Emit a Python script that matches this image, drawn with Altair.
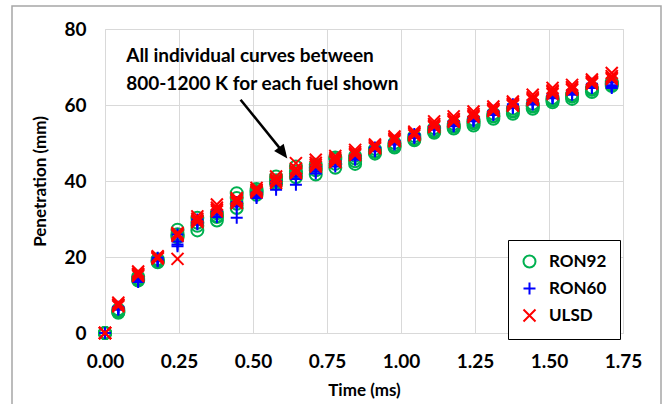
import altair as alt
import pandas as pd

FONT = "Lato"

# ---------------- data ----------------
time_ms = [0, 0.045, 0.112, 0.178, 0.245, 0.312, 0.378, 0.445, 0.512, 0.578, 0.645,
           0.712, 0.778, 0.845, 0.912, 0.978, 1.045, 1.112, 1.178, 1.245, 1.312,
           1.378, 1.445, 1.512, 1.578, 1.645, 1.712]

ron92_a = [0, 5.3, 13.8, 18.6, 25.2, 27.0, 29.6, 32.9, 36.4, 39.3, 41.0, 41.7, 43.5, 44.5,
           47.2, 48.8, 50.7, 52.7, 53.8, 54.6, 56.4, 57.7, 59.0, 60.7, 61.6, 63.4, 65.0]
ron92_b = [0, 5.8, 14.3, 19.0, 27.2, 28.2, 30.5, 36.8, 37.4, 40.2, 43.8, 44.3, 45.8, 45.2,
           47.8, 49.4, 51.2, 53.3, 54.3, 55.2, 57.0, 58.3, 59.6, 61.2, 62.2, 64.0, 65.6]
ron92_c = [0, 6.2, 14.8, 19.4, 26.0, 30.3, 31.5, 35.5, 37.9, 41.2, 42.5, 43.4, 46.2, 46.6,
           48.4, 50.0, 51.8, 53.9, 55.0, 56.1, 57.7, 59.0, 60.3, 61.8, 62.8, 64.5, 66.0]
ron92_d = [0, 5.5, 14.0, 18.8, 25.5, 29.0, 30.8, 34.0, 37.0, 39.8, 42.0, 42.8, 44.5, 45.9,
           47.6, 49.2, 51.0, 53.0, 54.5, 55.6, 57.1, 58.5, 59.8, 61.4, 62.4, 64.1, 65.4]

ron60_a = [0, 6.1, 13.4, 18.9, 22.8, 29.4, 31.1, 30.3, 35.5, 37.7, 39.0, 43.0, 43.8, 45.6,
           47.8, 49.6, 51.3, 53.5, 54.4, 55.7, 57.4, 59.2, 60.1, 61.8, 62.7, 64.5, 64.5]
ron60_b = [0, 6.5, 14.2, 19.3, 24.1, 28.6, 31.8, 33.3, 36.3, 38.8, 40.5, 42.5, 44.5, 46.2,
           48.3, 50.2, 51.9, 54.0, 55.1, 56.3, 58.0, 59.7, 60.7, 62.3, 63.3, 65.0, 65.2]
ron60_c = [0, 6.9, 14.8, 19.8, 25.9, 29.9, 32.4, 34.5, 37.0, 40.0, 41.8, 43.6, 45.3, 46.8,
           48.8, 50.6, 52.4, 54.5, 55.8, 56.9, 58.5, 60.2, 61.3, 62.8, 63.9, 65.6, 65.9]
ron60_d = [0, 6.3, 13.9, 19.1, 23.3, 29.0, 30.5, 33.8, 35.9, 39.3, 41.2, 42.0, 44.9, 45.9,
           48.0, 49.9, 51.6, 53.8, 54.7, 56.0, 57.7, 59.5, 60.4, 62.0, 63.0, 64.8, 65.0]

ulsd_a = [0, 7.0, 15.0, 19.6, 26.3, 29.6, 32.0, 34.2, 37.0, 39.5, 42.1, 43.8, 45.0, 46.8,
          48.6, 50.5, 52.0, 54.2, 55.6, 56.8, 58.4, 59.8, 61.3, 62.9, 64.0, 65.6, 66.8]
ulsd_b = [0, 8.0, 16.2, 20.0, 19.5, 30.7, 33.8, 35.5, 37.7, 41.2, 44.7, 45.6, 46.0, 48.2,
          49.6, 51.7, 53.0, 55.7, 57.0, 58.3, 59.6, 60.9, 62.7, 64.5, 65.3, 66.7, 68.4]
ulsd_c = [0, 7.5, 15.6, 19.8, 26.0, 29.2, 33.0, 34.8, 38.2, 40.4, 43.3, 44.8, 46.6, 47.6,
          49.2, 51.2, 52.6, 55.0, 56.3, 57.6, 59.0, 60.4, 62.0, 63.8, 64.7, 66.2, 67.6]
ulsd_d = [0, 7.3, 15.3, 20.2, 25.6, 30.1, 32.5, 35.0, 37.3, 39.9, 42.6, 44.3, 45.5, 47.2,
          48.9, 50.9, 52.4, 54.6, 56.0, 57.2, 58.7, 60.1, 61.7, 63.4, 64.4, 65.9, 67.2]

fuels = ["RON92", "RON60", "ULSD"]
fuel_colors = ["#00B050", "#0000FF", "#FF0000"]
fuel_shapes = ["circle", "M-1,0L1,0M0,-1L0,1", "M-1,-1L1,1M-1,1L1,-1"]

x_ticks = [0, 0.25, 0.5, 0.75, 1.0, 1.25, 1.5, 1.75]
y_ticks = [0, 20, 40, 60, 80]

ann_lines = ["All individual curves between", "800-1200 K for each fuel shown"]
ann_t = [0.0717, 0.0717]
ann_p = [71.3, 64.0]

arrow_t = [0.458, 0.595]
arrow_p = [61.4, 48.2]
arrow_tip_t = [0.616]
arrow_tip_p = [45.9]

# ---------------- tables ----------------
rows = []
for fuel, curves in [("RON92", [ron92_a, ron92_b, ron92_c, ron92_d]),
                     ("RON60", [ron60_a, ron60_b, ron60_c, ron60_d]),
                     ("ULSD", [ulsd_a, ulsd_b, ulsd_c, ulsd_d])]:
    for k, curve in enumerate(curves):
        for t, p in zip(time_ms, curve):
            rows.append({"fuel": fuel, "curve": k, "time": t, "pen": p})
df = pd.DataFrame(rows)

ann_df = pd.DataFrame({"text": ann_lines, "t": ann_t, "p": ann_p})
arrow_df = pd.DataFrame({"t": [arrow_t[0]], "p": [arrow_p[0]],
                         "t2": [arrow_t[1]], "p2": [arrow_p[1]]})
tip_df = pd.DataFrame({"t": arrow_tip_t, "p": arrow_tip_p})

xscale = alt.Scale(domain=[0, 1.75], nice=False, zero=False)
yscale = alt.Scale(domain=[0, 80], nice=False)

x_axis = alt.Axis(values=x_ticks, format=".2f", title="Time (ms)", grid=True,
                  gridColor="#d9d9d9", gridWidth=1, domain=False, ticks=False,
                  labelFont=FONT, labelFontSize=19, labelFontWeight="bold",
                  labelColor="black", labelPadding=19, labelFlush=False,
                  labelOverlap=False, titleFont=FONT, titleFontSize=17,
                  titleFontWeight="bold", titleColor="black", titlePadding=11)
y_axis = alt.Axis(values=y_ticks, title="Penetration (mm)", grid=True,
                  gridColor="#d9d9d9", gridWidth=1, domain=False, ticks=False,
                  labelFont=FONT, labelFontSize=19, labelFontWeight="bold",
                  labelColor="black", labelPadding=19, labelOverlap=False,
                  titleFont=FONT, titleFontSize=17, titleFontWeight="bold",
                  titleColor="black", titlePadding=14)

legend = alt.Legend(title=None, orient="none", legendX=403, legendY=211,
                    strokeColor="black", fillColor="white",
                    padding=13, labelFont=FONT, labelFontSize=17,
                    labelFontWeight="bold", labelColor="black", symbolSize=144,
                    symbolStrokeWidth=2, rowPadding=6, labelOffset=11,
                    cornerRadius=0)

frame = alt.Chart(alt.Data(values=[{"a": 1}])).mark_rect(
    fill=None, stroke="#a6a6a6", strokeWidth=1.5
).encode(x=alt.value(-93), x2=alt.value(556), y=alt.value(-23), y2=alt.value(390))

points = alt.Chart(df).mark_point(filled=False, strokeWidth=2, opacity=1, size=144).encode(
    x=alt.X("time:Q", scale=xscale, axis=x_axis),
    y=alt.Y("pen:Q", scale=yscale, axis=y_axis),
    color=alt.Color("fuel:N", scale=alt.Scale(domain=fuels, range=fuel_colors), legend=legend),
    shape=alt.Shape("fuel:N", scale=alt.Scale(domain=fuels, range=fuel_shapes), legend=legend),
)

text = alt.Chart(ann_df).mark_text(
    font=FONT, fontSize=19, fontWeight="bold", color="black", align="left",
    baseline="alphabetic"
).encode(x=alt.X("t:Q", scale=xscale), y=alt.Y("p:Q", scale=yscale), text="text:N")

arrow_line = alt.Chart(arrow_df).mark_rule(color="black", strokeWidth=2.5).encode(
    x=alt.X("t:Q", scale=xscale), y=alt.Y("p:Q", scale=yscale), x2="t2:Q", y2="p2:Q")

arrow_head = alt.Chart(tip_df).mark_point(
    shape="M0,0L0.6,1.4L-0.6,1.4Z", filled=True, color="black", opacity=1,
    size=400, angle=143, strokeWidth=0
).encode(x=alt.X("t:Q", scale=xscale), y=alt.Y("p:Q", scale=yscale))

chart = alt.layer(frame, text, arrow_line, arrow_head, points).properties(
    width=518, height=304,
    autosize=alt.AutoSizeParams(type="none"),
    padding={"left": 105, "top": 29, "right": 41, "bottom": 71},
).configure_view(stroke="#d9d9d9", strokeWidth=1).configure_legend(
    strokeWidth=1.5
).configure(background="white")

chart.save("out.html", embed_options={"renderer": "svg", "actions": False})
